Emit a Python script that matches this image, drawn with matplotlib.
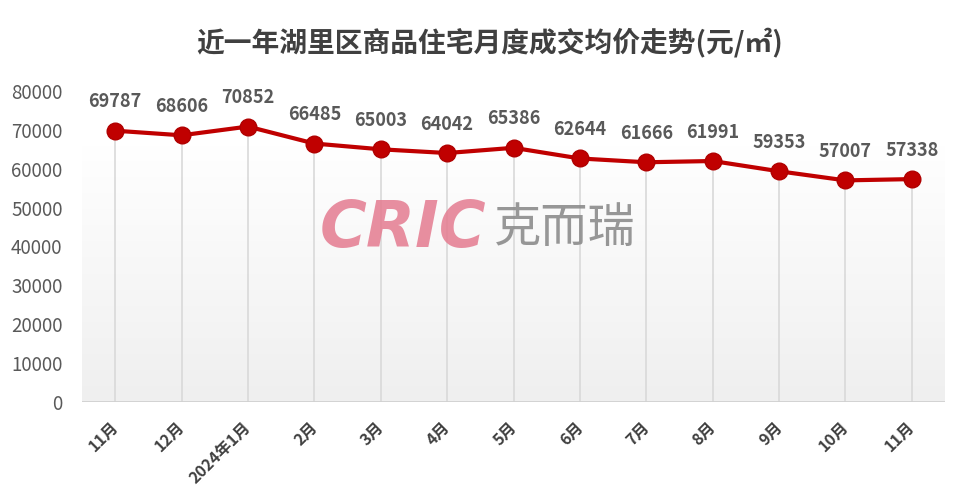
import matplotlib
matplotlib.use("Agg")
import matplotlib.pyplot as plt
import numpy as np
from matplotlib.colors import LinearSegmentedColormap
from matplotlib.transforms import ScaledTranslation

plt.rcParams['font.family'] = ['Noto Sans CJK SC', 'DejaVu Sans']

categories = ["11月", "12月", "2024年1月", "2月", "3月", "4月", "5月", "6月", "7月", "8月", "9月", "10月", "11月"]
values = [69787, 68606, 70852, 66485, 65003, 64042, 65386, 62644, 61666, 61991, 59353, 57007, 57338]
yticks = [0, 10000, 20000, 30000, 40000, 50000, 60000, 70000, 80000]
title = "近一年湖里区商品住宅月度成交均价走势(元/㎡)"

fig = plt.figure(figsize=(9.6, 4.97), dpi=100)
ax = fig.add_axes([82/960, (497-402)/497, (945-82)/960, (402-91)/497])
n = len(categories)
x = np.arange(n)
ax.set_xlim(-0.5, n - 0.5)
ax.set_ylim(0, 80000)

# gradient background
grad = np.linspace(0, 1, 256).reshape(-1, 1)
cmap = LinearSegmentedColormap.from_list("g", ["#efefef", "#ffffff"])
ax.imshow(grad, extent=(-0.5, n - 0.5, 0, 66000), origin='lower', aspect='auto', cmap=cmap, zorder=0)

# drop lines
ax.vlines(x, 0, values, colors="#d9d9d9", linewidth=1.2, zorder=1)
ax.axhline(0, color="#d0d0d0", linewidth=2, zorder=2)

ax.plot(x, values, color="#c00000", linewidth=3, marker='o', markersize=12,
        markerfacecolor="#c00000", markeredgecolor="#b00000", zorder=4)

for xi, v in zip(x, values):
    ax.annotate(f"{v}", (xi, v), xytext=(0, 14), textcoords='offset points',
                ha='center', va='bottom', fontsize=13, fontweight='bold', color="#595959", zorder=5)

for s in ax.spines.values():
    s.set_visible(False)
ax.set_yticks(yticks)
ax.set_yticklabels([str(t) for t in yticks], fontsize=13.5, color="#595959")
ax.tick_params(axis='y', length=0, pad=14)
ax.set_xticks(x)
ax.set_xticklabels(categories, rotation=45, ha='right', va='top', rotation_mode='anchor',
                   fontsize=11.5, color="#404040", fontweight='bold')
ax.tick_params(axis='x', length=0, pad=12)
shift = ScaledTranslation(-5/100, 0, fig.dpi_scale_trans)
for lbl in ax.get_xticklabels():
    lbl.set_transform(lbl.get_transform() + shift)

# watermark
fig.text(0.333, 0.54, "CRIC", fontsize=46, fontweight='heavy', style='italic',
         color="#e47b90", alpha=0.85, ha='left', va='center', family=['DejaVu Sans'])
fig.text(0.515, 0.54, "克而瑞", fontsize=34, color="#8c8c8c", alpha=0.9, ha='left', va='center')

fig.text(0.51, 0.915, title, fontsize=20, fontweight='bold', color="#404040", ha='center', va='center')

fig.savefig("out.png", dpi=100)
